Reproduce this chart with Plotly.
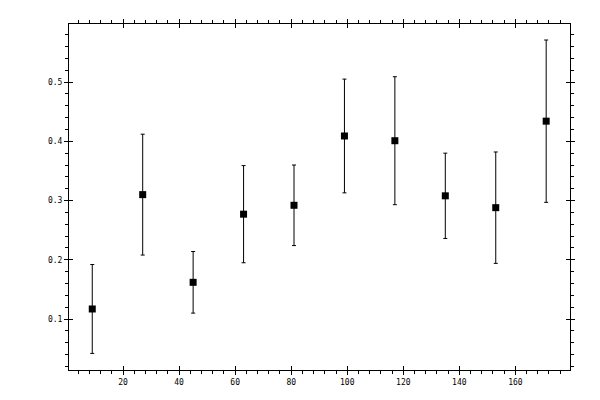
import plotly.graph_objects as go

# values
x_vals = [9, 27, 45, 63, 81, 99, 117, 135, 153, 171]
y_vals = [0.117, 0.310, 0.162, 0.277, 0.292, 0.409, 0.401, 0.308, 0.288, 0.434]
y_errs = [0.075, 0.102, 0.052, 0.082, 0.068, 0.096, 0.108, 0.072, 0.094, 0.137]

x_range = [0.7, 179.5]
y_range = [0.014, 0.598]

tick_font = dict(family="DejaVu Sans Mono", size=8, color="black")

fig = go.Figure()

fig.add_trace(go.Scatter(
    x=x_vals,
    y=y_vals,
    mode='markers',
    marker=dict(symbol='square', size=7, color='black'),
    error_y=dict(type='data', array=y_errs, visible=True,
                 color='black', thickness=1, width=2),
    showlegend=False,
    hoverinfo='skip'
))

# empty trace so the overlay axes (inside half of the major ticks) get drawn
fig.add_trace(go.Scatter(
    x=[None], y=[None], xaxis='x2', yaxis='y2',
    mode='markers', showlegend=False, hoverinfo='skip'
))

common = dict(showline=True, linecolor='black', linewidth=1,
              mirror='ticks', showgrid=False, zeroline=False,
              tickcolor='black', tickwidth=1, tickfont=tick_font)

# the page body adds an 8px offset; keep the div inside the 600x400 window
fig.update_layout(
    width=592,
    height=392,
    margin=dict(l=61, r=30, t=11, b=30),
    paper_bgcolor='white',
    plot_bgcolor='white',
    xaxis=dict(range=x_range, tick0=0, dtick=20, ticks='outside', ticklen=4,
               minor=dict(dtick=4, ticks='outside', ticklen=3,
                          tickcolor='black', showgrid=False),
               **common),
    yaxis=dict(range=y_range, tick0=0, dtick=0.1, tickformat='.1f',
               ticks='outside', ticklen=4,
               minor=dict(dtick=0.02, ticks='outside', ticklen=3,
                          tickcolor='black', showgrid=False),
               **common),
    xaxis2=dict(range=x_range, tick0=0, dtick=20, ticks='inside', ticklen=4,
                overlaying='x', anchor='y2', showticklabels=False,
                showline=False, mirror='ticks', showgrid=False,
                zeroline=False, tickcolor='black', tickwidth=1),
    yaxis2=dict(range=y_range, tick0=0, dtick=0.1, ticks='inside', ticklen=4,
                overlaying='y', anchor='x2', showticklabels=False,
                showline=False, mirror='ticks', showgrid=False,
                zeroline=False, tickcolor='black', tickwidth=1),
)

fig.write_html("out.html")
